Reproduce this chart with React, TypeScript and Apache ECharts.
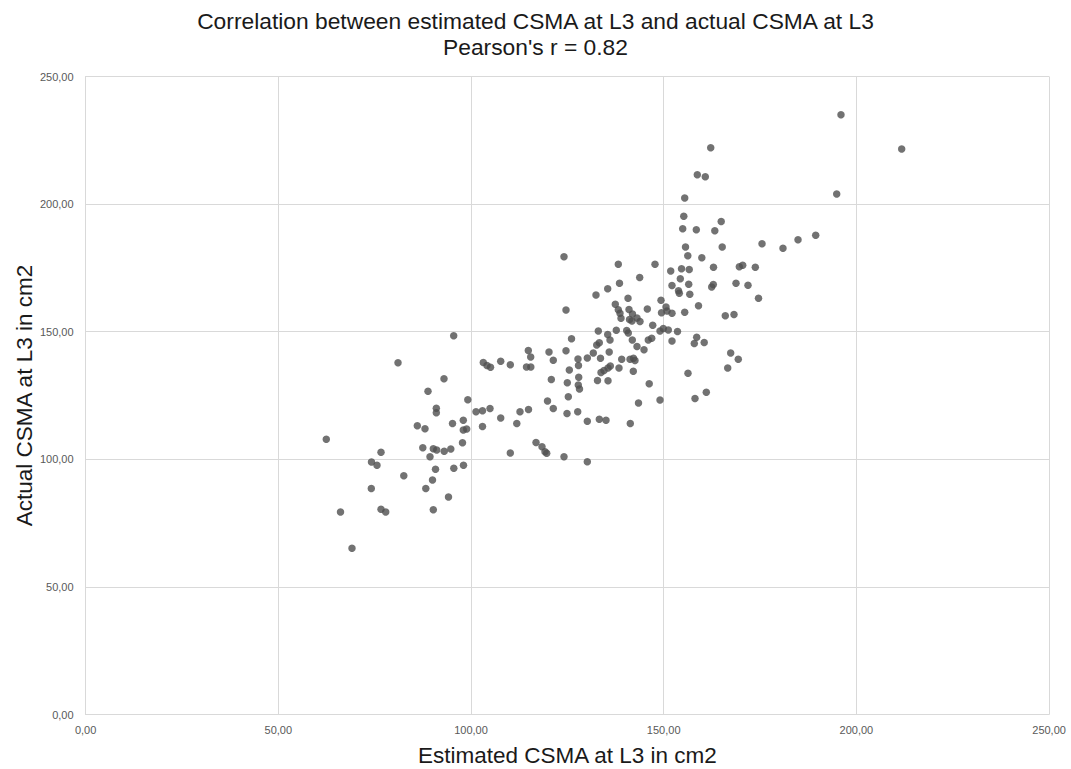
import React, { useEffect, useRef } from "react";
import * as echarts from "echarts";

const titleLine1 = "Correlation between estimated CSMA at L3 and actual CSMA at L3";
const titleLine2 = "Pearson's r = 0.82";
const xAxisName = "Estimated CSMA at L3 in cm2";
const yAxisName = "Actual CSMA at L3 in cm2";

// Estimated CSMA at L3 (x)
const estimated: number[] = [
  62.45, 66.14, 69.12, 74.13, 74.18, 75.61, 76.65, 76.65, 77.87, 81.06,
  82.56, 86.07, 87.49, 88.06, 88.27, 88.84, 89.36, 90.01, 90.22, 91.1,
  90.22, 90.79, 91.0, 91.0, 92.99, 93.05, 94.16, 94.76, 95.2, 95.51,
  95.54, 97.79, 98.0, 98.05, 98.0, 98.88, 99.17, 101.3, 102.98, 104.93,
  102.98, 103.19, 104.15, 105.06, 107.71, 107.71, 110.2, 110.2, 111.88, 112.71,
  114.4, 115.52, 114.87, 115.49, 114.92, 116.87, 118.42, 119.2, 119.64, 119.85,
  120.24, 120.84, 121.35, 121.35, 124.13, 124.13, 124.65, 124.65, 124.99, 124.91,
  125.25, 125.51, 126.08, 127.69, 127.76, 127.89, 127.95, 127.84, 128.15, 130.18,
  130.18, 130.18, 131.73, 132.43, 132.62, 133.29, 132.82, 133.03, 133.29, 133.6,
  133.73, 134.51, 135.55, 136.15, 135.03, 135.47, 135.47, 136.07, 135.55, 135.86,
  137.44, 138.22, 138.66, 138.92, 137.7, 138.22, 138.53, 138.4, 139.1, 140.4,
  140.81, 140.74, 141.0, 141.9, 143.07, 143.85, 141.13, 141.77, 141.26, 142.16,
  142.55, 141.33, 141.85, 142.11, 143.07, 143.46, 143.77, 144.89, 145.75, 146.0,
  146.89, 146.24, 147.15, 147.74, 149.04, 149.04, 149.9, 151.19, 149.3, 149.43,
  150.6, 150.86, 151.82, 152.15, 152.15, 152.15, 153.58, 154.62, 153.84, 154.05,
  154.31, 154.93, 155.21, 155.45, 155.45, 155.66, 156.25, 156.3, 156.49, 156.62,
  156.77, 157.94, 158.12, 158.46, 158.56, 158.72, 159.03, 159.89, 160.51, 160.79,
  161.05, 162.2, 162.45, 162.87, 162.92, 163.26, 164.92, 165.18, 165.98, 166.61,
  167.38, 168.24, 168.76, 169.35, 169.62, 170.5, 171.87, 173.77, 174.6, 175.51,
  180.95, 184.85, 189.44, 194.89, 196.0, 211.75
];

// Actual CSMA at L3 (y)
const actual: number[] = [
  107.84, 79.35, 65.13, 88.56, 98.94, 97.65, 102.74, 80.45, 79.35, 137.85,
  93.57, 113.17, 104.51, 111.99, 88.56, 126.65, 101.02, 91.89, 104.15, 103.64,
  80.21, 96.08, 119.98, 118.22, 131.58, 103.17, 85.23, 104.04, 114.03, 148.43,
  96.47, 106.5, 115.32, 97.69, 111.48, 111.87, 123.31, 118.65, 119.04, 119.91,
  112.85, 137.93, 136.76, 136.05, 138.4, 116.18, 137.07, 102.47, 114.03, 118.65,
  136.17, 136.17, 142.63, 140.09, 119.51, 106.58, 104.94, 102.98, 102.35, 122.85,
  142.05, 131.27, 138.79, 119.91, 179.39, 101.02, 158.5, 142.55, 130.02, 117.95,
  124.53, 134.99, 147.26, 118.65, 139.3, 136.76, 132.13, 129.11, 127.55, 139.69,
  114.89, 99.06, 141.65, 164.38, 144.79, 145.69, 130.88, 150.27, 115.67, 139.58,
  134.01, 134.8, 135.78, 136.56, 115.32, 166.85, 148.9, 146.75, 130.8, 142.05,
  160.78, 158.62, 157.21, 155.25, 150.55, 176.45, 168.97, 135.78, 139.18, 150.47,
  149.49, 163.09, 158.7, 156.94, 155.37, 154.0, 154.78, 154.19, 139.18, 139.58,
  138.71, 114.03, 146.75, 134.52, 144.2, 122.06, 171.24, 142.95, 158.89, 146.75,
  147.41, 129.62, 152.51, 176.45, 123.24, 150.27, 151.25, 150.67, 162.3, 157.45,
  159.68, 158.11, 173.79, 168.1, 157.21, 146.36, 150.08, 174.65, 166.07, 165.09,
  170.73, 190.32, 195.26, 202.39, 157.6, 183.19, 179.78, 133.7, 168.61, 174.37,
  164.69, 145.38, 123.82, 189.93, 147.81, 211.52, 160.15, 179.0, 145.77, 210.74,
  126.25, 222.1, 167.52, 168.5, 175.24, 189.54, 193.18, 183.19, 156.27, 135.78,
  141.65, 156.74, 169.0, 139.18, 175.47, 176.02, 168.18, 175.24, 163.13, 184.44,
  182.68, 186.05, 187.77, 203.96, 235.03, 221.59
];

const fmt = (v: number) => v.toFixed(2).replace(".", ",");

export default function App() {
  const ref = useRef<HTMLDivElement>(null);

  useEffect(() => {
    if (!ref.current) return;
    const chart = echarts.init(ref.current, null, { renderer: "svg" });
    const data = estimated.map((x, i) => [x, actual[i]]);
    const gridColor = "#d9d9d9";
    const labelColor = "#595959";
    const font = "Liberation Sans, Arial, sans-serif";
    chart.setOption({
      animation: false,
      backgroundColor: "#ffffff",
      title: {
        text: titleLine1 + "\n" + titleLine2,
        left: "center",
        top: 3,
        textStyle: {
          fontFamily: font,
          fontSize: 22.8,
          fontWeight: "normal",
          color: "#1a1a1a",
          lineHeight: 26,
        },
      },
      grid: {
        left: 85.6,
        right: 21.9,
        top: 76.5,
        bottom: 54.5,
        containLabel: false,
        outerBoundsMode: "none",
      },
      xAxis: {
        type: "value",
        min: 0,
        max: 250,
        interval: 50,
        name: xAxisName,
        nameLocation: "middle",
        nameGap: 29,
        nameMoveOverlap: false,
        nameTextStyle: {
          fontFamily: font,
          fontSize: 22.5,
          color: "#1a1a1a",
          verticalAlign: "top",
        },
        axisLine: { show: true, lineStyle: { color: gridColor, width: 1 } },
        axisTick: { show: false },
        splitLine: { show: true, lineStyle: { color: gridColor, width: 1 } },
        axisLabel: {
          formatter: fmt,
          fontFamily: font,
          fontSize: 11,
          color: labelColor,
          margin: 10,
        },
      },
      yAxis: {
        type: "value",
        min: 0,
        max: 250,
        interval: 50,
        name: yAxisName,
        nameLocation: "middle",
        nameGap: 50,
        nameRotate: 90,
        nameMoveOverlap: false,
        nameTextStyle: {
          fontFamily: font,
          fontSize: 22.5,
          color: "#1a1a1a",
        },
        axisLine: { show: true, lineStyle: { color: gridColor, width: 1 } },
        axisTick: { show: false },
        splitLine: { show: true, lineStyle: { color: gridColor, width: 1 } },
        axisLabel: {
          formatter: fmt,
          fontFamily: font,
          fontSize: 11,
          color: labelColor,
          margin: 12,
        },
      },
      series: [
        {
          type: "scatter",
          data,
          symbol: "circle",
          symbolSize: 7.5,
          itemStyle: { color: "#4f4f4f" },
        },
      ],
    });
    return () => chart.dispose();
  }, []);

  return (
    <div
      ref={ref}
      style={{ position: "fixed", left: 0, top: 0, width: 1071, height: 769, background: "#fff" }}
    />
  );
}
